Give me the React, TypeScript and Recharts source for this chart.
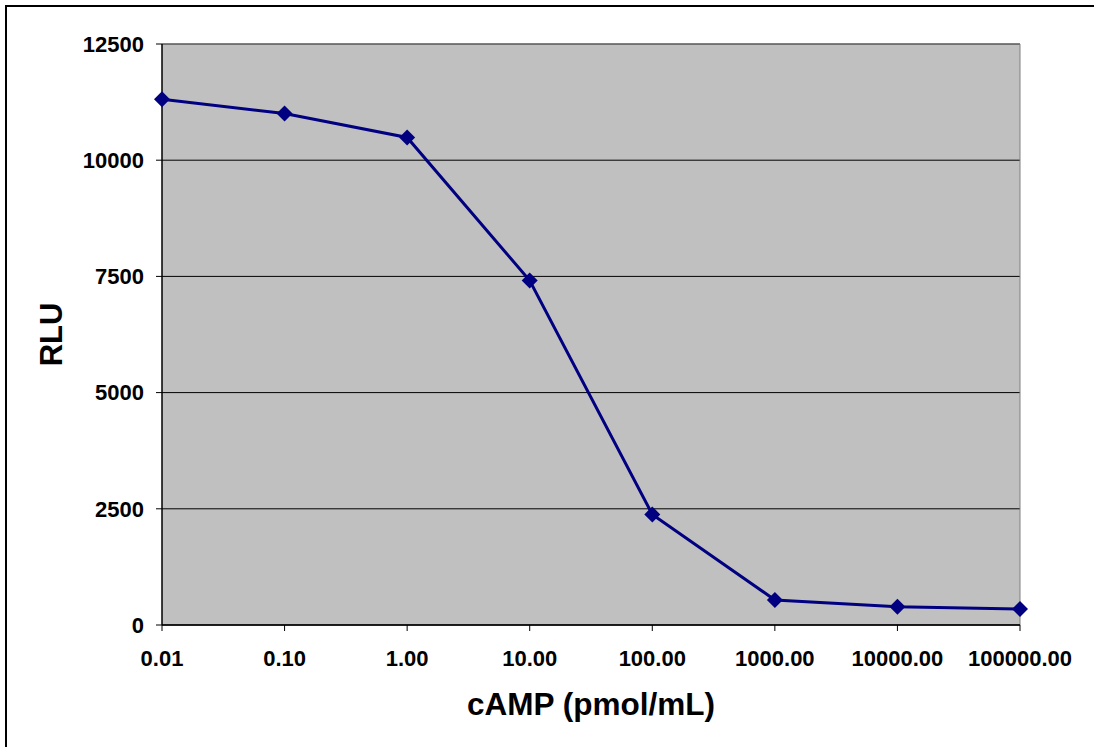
import { LineChart, Line, XAxis, YAxis, CartesianGrid, ReferenceLine, Label } from 'recharts';

// cAMP standard curve
const concentrations = [0.01, 0.1, 1, 10, 100, 1000, 10000, 100000];
const rluValues = [11310, 11005, 10490, 7410, 2380, 540, 395, 345];
const xTicks = [0.01, 0.1, 1, 10, 100, 1000, 10000, 100000];
const yTicks = [0, 2500, 5000, 7500, 10000, 12500];

const data = concentrations.map((c, i) => ({ conc: c, rlu: rluValues[i] }));

const FONT = '"Liberation Sans", Arial, sans-serif';
const NAVY = '#000080';

const Diamond = (props: any) => {
  const { cx, cy } = props;
  if (cx == null || cy == null) return null;
  const r = 8;
  return (
    <path
      d={`M${cx} ${cy - r} L${cx + r} ${cy} L${cx} ${cy + r} L${cx - r} ${cy} Z`}
      fill={NAVY}
      stroke="none"
    />
  );
};

export default function App() {
  return (
    <div style={{ position: 'absolute', left: 0, top: 0, width: 1094, height: 747, background: '#fff', overflow: 'hidden' }}>
      <div style={{ position: 'absolute', left: 5, top: 5, width: 1200, height: 800, borderLeft: '2px solid #000', borderTop: '2px solid #000' }} />
      <div style={{ position: 'absolute', left: 0, top: 0 }}>
        <LineChart width={1094} height={747} data={data} margin={{ top: 44, right: 74, bottom: 0, left: 0 }}>
          <CartesianGrid vertical={false} stroke="#000" strokeOpacity={1} fill="#C0C0C0" fillOpacity={1} />
          <ReferenceLine y={12500} stroke="#808080" strokeWidth={1} />
          <ReferenceLine x={100000} stroke="#808080" strokeWidth={1} />
          <XAxis
            dataKey="conc"
            type="number"
            scale="log"
            domain={[0.01, 100000]}
            ticks={xTicks}
            interval={0}
            height={122}
            tickFormatter={(v: number) => v.toFixed(2)}
            axisLine={{ stroke: '#000', strokeWidth: 1.5 }}
            tickLine={{ stroke: '#000' }}
            tickSize={6}
            tickMargin={19}
            tick={{ fill: '#000', fontSize: 22, fontWeight: 700, fontFamily: FONT }}
          >
            <Label
              content={(p: any) => {
                const vb = p.viewBox || {};
                return (
                  <text x={vb.x + vb.width / 2} y={715} textAnchor="middle" fontFamily={FONT} fontWeight={700} fontSize={31.5} fill="#000">
                    cAMP (pmol/mL)
                  </text>
                );
              }}
            />
          </XAxis>
          <YAxis
            type="number"
            domain={[0, 12500]}
            ticks={yTicks}
            interval={0}
            width={162}
            axisLine={{ stroke: '#000', strokeWidth: 1.5 }}
            tickLine={{ stroke: '#000' }}
            tickSize={6}
            tickMargin={12}
            tick={{ fill: '#000', fontSize: 22, fontWeight: 700, fontFamily: FONT }}
          >
            <Label
              content={(p: any) => {
                const vb = p.viewBox || {};
                const cy = vb.y + vb.height / 2;
                return (
                  <text x={51} y={cy} transform={`rotate(-90, 51, ${cy})`} textAnchor="middle" dominantBaseline="central" fontFamily={FONT} fontWeight={700} fontSize={31} fill="#000">
                    RLU
                  </text>
                );
              }}
            />
          </YAxis>
          <Line
            type="linear"
            dataKey="rlu"
            stroke={NAVY}
            strokeWidth={3}
            dot={<Diamond />}
            activeDot={false}
            isAnimationActive={false}
          />
        </LineChart>
      </div>
    </div>
  );
}
